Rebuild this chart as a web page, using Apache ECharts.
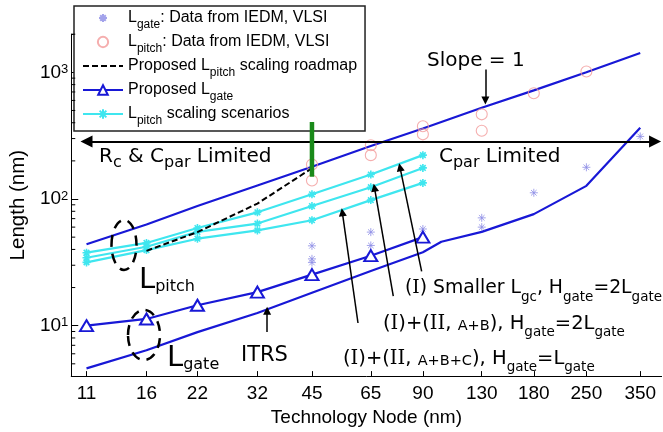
<!DOCTYPE html>
<html><head><meta charset="utf-8">
<script src="https://cdn.jsdelivr.net/npm/echarts@6/dist/echarts.min.js"></script>
<style>html,body{margin:0;padding:0;background:#fff}#c{width:663px;height:432px}</style>
</head><body><div id="c"></div>
<script>
// ---- data ----
const nodes = [11, 16, 22, 32, 45, 65, 90, 130, 180, 250, 350];
const yMajorTicks = [10, 100, 1000];
const yMinorTicks = [5, 6, 7, 8, 9, 20, 30, 40, 50, 60, 70, 80, 90, 200, 300, 400, 500, 600, 700, 800, 900, 2000];

const pitchSlopeX = [11, 16, 22, 32, 45, 65, 90, 130, 180, 250, 350];
const pitchSlopeY = [44, 63, 88, 128, 180, 262, 360, 525, 720, 1000, 1420];

const itrsX = [11, 16, 22, 32, 45, 65, 90, 101, 130, 180, 250, 350];
const itrsY = [4.6, 6.4, 8.9, 12.6, 18.2, 27, 38, 46, 55, 76, 127, 365];

const propLgateX = [11, 16, 22, 32, 45, 65, 90];
const propLgateY = [10, 11.3, 14.5, 18.4, 25.3, 35.7, 50];

const scenX = [11, 16, 22, 32, 45, 65, 90];
const scenA = [37.7, 45, 59, 78.5, 109, 156, 222];
const scenB = [34.4, 42, 55, 64, 88, 124, 176];
const scenC = [31.6, 39.5, 48.6, 56.5, 68, 98, 134];

const roadmapX = [16, 22, 32, 45];
const roadmapY = [39, 54.8, 92, 175];

const lgateDataX = [45, 45, 45, 65, 65, 90, 130, 130, 180, 250, 350];
const lgateDataY = [42.7, 33.7, 31.5, 54.8, 43, 58, 71, 60, 112, 178, 312];

const lpitchDataX = [45, 45, 65, 65, 90, 90, 130, 130, 180, 250];
const lpitchDataY = [187, 140, 266, 222, 375, 324, 466, 346, 683, 1015];

const boundaryX = [45, 45];          // green vertical bar
const boundaryY = [150, 405];
const regionArrowX = [11, 384];      // horizontal double arrow
const regionArrowY = [284, 284];

// annotation arrows: [fromX, fromY, toX, toY] in data units
const pointerArrows = [
  [133, 1054, 133, 600],   // Slope = 1
  [34, 8.9, 34, 13.1],     // ITRS
  [60, 10.5, 54.4, 78.5],  // (I)+(II,A+B+C)
  [74.8, 17.1, 66.5, 123], // (I)+(II,A+B)
  [89.3, 26.8, 78, 178]    // (I) Smaller
];

const BLUE = '#1818d6', CYAN = '#3fe6ef', PINK = '#f29a9a', STAR = '#8c8ce6', GREEN = '#1a8a1a';
const ASTER = 'path://M0,-10L0,10M-10,0L10,0M-7,-7L7,7M-7,7L7,-7';
const ASTER_LEGEND = 'path://M-15,-15M15,15M0,-10L0,10M-10,0L10,0M-7,-7L7,7M-7,7L7,-7';
const CIRCLE_LEGEND = 'path://M-7,-7M7,7M-6,0A6,6 0 1,0 6,0A6,6 0 1,0 -6,0Z';
const zip = (xs, ys) => xs.map((x, i) => [x, ys[i]]);

const legendNames = ['lgateData', 'lpitchData', 'roadmap', 'propLgate', 'scen'];
const legendText = {
  lgateData: '{m|L}{s|gate}{m|: Data from IEDM, VLSI}',
  lpitchData: '{m|L}{s|pitch}{m|: Data from IEDM, VLSI}',
  roadmap: '{m|Proposed L}{s|pitch}{m| scaling roadmap}',
  propLgate: '{m|Proposed L}{s|gate}',
  scen: '{m|L}{s|pitch}{m| scaling scenarios}'
};

const chart = echarts.init(document.getElementById('c'), null, {renderer: 'canvas'});

const TF = 'DejaVu Sans';
const annRich = {
  m: {fontSize: 20, fontFamily: TF, lineHeight: 22, verticalAlign: 'top', fill: '#000'},
  n: {fontSize: 19.5, fontFamily: TF, lineHeight: 22, verticalAlign: 'top', fill: '#000'},
  r: {fontSize: 19.5, fontFamily: 'DejaVu Serif', lineHeight: 22, verticalAlign: 'top', fill: '#000'},
  n1: {fontSize: 18.8, fontFamily: TF, lineHeight: 22, verticalAlign: 'top', fill: '#000'},
  r1: {fontSize: 18.8, fontFamily: 'DejaVu Serif', lineHeight: 22, verticalAlign: 'top', fill: '#000'},
  c: {fontSize: 14.5, fontFamily: TF, lineHeight: 15, padding: [5, 0, 0, 0], verticalAlign: 'top', fill: '#000'},
  s: {fontSize: 13.5, fontFamily: TF, lineHeight: 14, padding: [11, 0, 0, 0], verticalAlign: 'top', fill: '#000'},
  p: {fontSize: 16, fontFamily: TF, lineHeight: 16, padding: [8, 0, 0, 0], verticalAlign: 'top', fill: '#000'},
  L: {fontSize: 29, fontFamily: TF, lineHeight: 29, verticalAlign: 'top', fill: '#000'},
  l: {fontSize: 16, fontFamily: TF, lineHeight: 16, padding: [13, 0, 0, 0], verticalAlign: 'top', fill: '#000'},
  t: {fontSize: 21, fontFamily: TF, lineHeight: 22, verticalAlign: 'top', fill: '#000'}
};
function txt(x, y, text) {
  return {type: 'text', x: x, y: y, z: 50, silent: true, style: {text: text, rich: annRich, fill: '#000'}};
}

const option = {
  animation: false,
  backgroundColor: '#fff',
  grid: {left: 65.6, right: 1.4, top: 34.2, bottom: 51, containLabel: false},
  xAxis: {
    type: 'log', logBase: 10, min: 10, max: 400,
    axisLine: {lineStyle: {color: '#000', width: 1}},
    axisTick: {inside: true, length: 5, customValues: nodes, lineStyle: {color: '#000'}},
    axisLabel: {customValues: nodes, margin: 8, color: '#000', fontSize: 19, fontFamily: 'Liberation Sans',
      formatter: v => String(Math.round(v))},
    splitLine: {show: false},
    name: 'Technology Node (nm)', nameLocation: 'middle', nameGap: 28,
    nameTextStyle: {fontSize: 19, fontFamily: 'Liberation Sans', color: '#000'}
  },
  yAxis: {
    type: 'log', logBase: 10, min: 4, max: 2000,
    axisLine: {lineStyle: {color: '#000', width: 1}},
    axisTick: {inside: true, length: 7, lineStyle: {color: '#000'}},
    axisLabel: {
      margin: 3, color: '#000',
      formatter: v => {
        for (const t of yMajorTicks) if (Math.abs(v - t) / t < 1e-6) return '{b|10}{p|' + Math.round(Math.log10(t)) + '}';
        return '';
      },
      rich: {
        b: {fontSize: 19, fontFamily: 'Liberation Sans', color: '#000', lineHeight: 19, verticalAlign: 'top'},
        p: {fontSize: 13, fontFamily: 'Liberation Sans', color: '#000', lineHeight: 10, verticalAlign: 'top'}
      }
    },
    splitLine: {show: false},
    name: 'Length (nm)', nameLocation: 'middle', nameGap: 31, nameRotate: 90,
    nameTextStyle: {fontSize: 20.5, fontFamily: 'Liberation Sans', color: '#000'}
  },
  legend: {
    data: legendNames.map(n => n === 'roadmap'
      ? {name: n, itemStyle: {opacity: 0}, lineStyle: {opacity: 1}}
      : n === 'lgateData' ? {name: n, icon: ASTER_LEGEND}
      : n === 'lpitchData' ? {name: n, icon: CIRCLE_LEGEND}
      : {name: n}),
    orient: 'vertical', left: 74, top: 6,
    padding: [4, 8, 4, 8], itemGap: 3, itemWidth: 40, itemHeight: 12,
    borderColor: '#222', borderWidth: 1.5, backgroundColor: '#fff', selectedMode: false,
    formatter: n => legendText[n],
    textStyle: {
      color: '#000', fontSize: 16, fontFamily: 'Liberation Sans',
      rich: {
        m: {fontSize: 16, fontFamily: 'Liberation Sans', color: '#000', lineHeight: 16, verticalAlign: 'top'},
        s: {fontSize: 12, fontFamily: 'Liberation Sans', color: '#000', lineHeight: 12, padding: [9, 0, 0, 0], verticalAlign: 'top'}
      }
    }
  },
  graphic: [
    {type: 'ellipse', z: 50, silent: true, shape: {cx: 124, cy: 245, rx: 12.5, ry: 25},
      style: {fill: 'none', stroke: '#000', lineWidth: 2.5, lineDash: [10, 7]}},
    {type: 'ellipse', z: 50, silent: true, shape: {cx: 144, cy: 335, rx: 16, ry: 25},
      style: {fill: 'none', stroke: '#000', lineWidth: 2.5, lineDash: [10, 7]}},
    txt(427, 51, '{m|Slope = 1}'),
    txt(99, 147, '{m|R}{p|c}{m| & C}{p|par}{m| Limited}'),
    txt(439, 147, '{m|C}{p|par}{m| Limited}'),
    txt(139, 266, '{L|L}{l|pitch}'),
    txt(167, 344, '{L|L}{l|gate}'),
    txt(241, 345, '{t|ITRS}'),
    txt(405, 279, '{n1|(}{r1|I}{n1|) Smaller L}{s|gc}{n1|, H}{s|gate}{n1|=2L}{s|gate}'),
    txt(383, 314, '{n|(}{r|I}{n|)+(}{r|II}{n|, }{c|A+B}{n|), H}{s|gate}{n|=2L}{s|gate}'),
    txt(343, 349, '{n|(}{r|I}{n|)+(}{r|II}{n|, }{c|A+B+C}{n|), H}{s|gate}{n|=L}{s|gate}')
  ],
  series: [
    {name: 'lgateData', type: 'scatter', data: zip(lgateDataX, lgateDataY), symbol: ASTER, symbolSize: 8,
      symbolKeepAspect: true, itemStyle: {color: 'rgba(0,0,0,0)', borderColor: STAR, borderWidth: 1}, z: 3},
    {name: 'lpitchData', type: 'scatter', data: zip(lpitchDataX, lpitchDataY), symbol: 'circle', symbolSize: 11,
      itemStyle: {color: 'rgba(255,255,255,0)', borderColor: PINK, borderWidth: 1.1}, z: 3},
    {name: 'roadmap', type: 'line', data: zip(roadmapX, roadmapY), symbol: 'none',
      lineStyle: {color: '#000', width: 2, type: [6, 3]}, itemStyle: {color: '#000'}, z: 4},
    {name: 'propLgate', type: 'line', data: zip(propLgateX, propLgateY), symbol: 'emptyTriangle', symbolSize: [13, 11],
      lineStyle: {color: BLUE, width: 2.2}, itemStyle: {color: BLUE, borderColor: BLUE, borderWidth: 2}, z: 3},
    {name: 'scen', type: 'line', data: zip(scenX, scenA), symbol: ASTER, symbolSize: 8,
      lineStyle: {color: CYAN, width: 2.2}, itemStyle: {color: CYAN, borderColor: CYAN, borderWidth: 1.6}, z: 3},
    {name: 'scen', type: 'line', data: zip(scenX, scenB), symbol: ASTER, symbolSize: 8,
      lineStyle: {color: CYAN, width: 2.2}, itemStyle: {color: CYAN, borderColor: CYAN, borderWidth: 1.6}, z: 3},
    {name: 'scen', type: 'line', data: zip(scenX, scenC), symbol: ASTER, symbolSize: 8,
      lineStyle: {color: CYAN, width: 2.2}, itemStyle: {color: CYAN, borderColor: CYAN, borderWidth: 1.6}, z: 3},
    {name: 'pitchSlope', type: 'line', data: zip(pitchSlopeX, pitchSlopeY), symbol: 'none',
      lineStyle: {color: BLUE, width: 2.2}, itemStyle: {color: BLUE}, z: 2},
    {name: 'itrs', type: 'line', data: zip(itrsX, itrsY), symbol: 'none',
      lineStyle: {color: BLUE, width: 2.2}, itemStyle: {color: BLUE}, z: 2},
    {name: 'boundary', type: 'line', data: zip(boundaryX, boundaryY), symbol: 'none',
      lineStyle: {color: GREEN, width: 4.5}, itemStyle: {color: GREEN}, z: 10},
    {name: 'arrows', type: 'line', data: [], silent: true,
      markLine: {
        silent: true, animation: false, label: {show: false}, emphasis: {disabled: true},
        data: [
          [{coord: [regionArrowX[0], regionArrowY[0]], symbol: 'triangle', symbolSize: 12},
           {coord: [regionArrowX[1], regionArrowY[1]], symbol: 'triangle', symbolSize: 12,
             lineStyle: {color: '#000', width: 2, type: 'solid'}}]
        ].concat(pointerArrows.map(a => [
          {coord: [a[0], a[1]], symbol: 'none'},
          {coord: [a[2], a[3]], symbol: 'triangle', symbolSize: 8, lineStyle: {color: '#000', width: 1.5, type: 'solid'}}
        ])),
        lineStyle: {color: '#000', width: 1.5, type: 'solid'}
      }, z: 6},
    {name: 'minorTicks', type: 'custom', silent: true, z: 5,
      data: yMinorTicks.map(v => [10, v]),
      renderItem: (params, api) => {
        const p = api.coord([api.value(0), api.value(1)]);
        return {type: 'line', shape: {x1: p[0], y1: p[1], x2: p[0] + 4, y2: p[1]}, style: {stroke: '#000', lineWidth: 1}};
      }}
  ]
};
chart.setOption(option);
</script>
</body></html>
